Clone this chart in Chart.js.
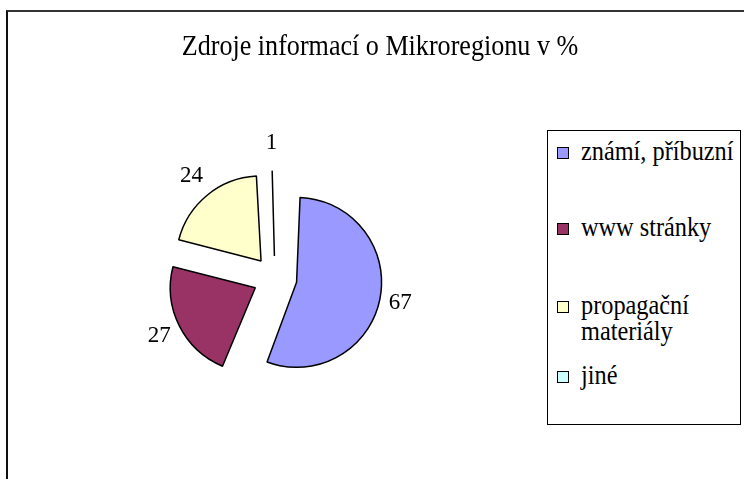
<!DOCTYPE html>
<html>
<head>
<meta charset="utf-8">
<script src="https://cdn.jsdelivr.net/npm/chart.js@4.4.1/dist/chart.umd.min.js"></script>
<style>
  html, body { margin: 0; padding: 0; background: #fff; }
  body { width: 744px; height: 479px; position: relative; overflow: hidden; }
  .frame { position: absolute; left: 6px; top: 10px; width: 800px; height: 520px; border-top: 2px solid #333; border-left: 2px solid #111; }
  #chart { position: absolute; left: 0; top: 0; }
  .title { position: absolute; left: 0; width: 760px; top: 29px; text-align: center; font-family: "Liberation Serif", "Times New Roman", serif; font-size: 29px; line-height: 32px; color: #000; white-space: nowrap; transform: scaleX(0.9); transform-origin: 380px 0; }
  .legend { position: absolute; left: 547px; top: 130px; width: 194px; height: 295px; box-sizing: border-box; border: 1px solid #000; background: #fff; font-family: "Liberation Serif", "Times New Roman", serif; }
  .legend .item { position: absolute; left: 0; font-size: 27px; line-height: 26px; color: #000; white-space: nowrap; }
  .legend .swatch { position: absolute; left: 9px; top: 9px; width: 12px; height: 12px; box-sizing: border-box; border: 1px solid #000; }
  .legend .text { margin-left: 33px; transform: scaleX(0.9); transform-origin: 0 0; }
</style>
</head>
<body>
<div class="frame"></div>
<canvas id="chart" width="744" height="479"></canvas>
<div class="title" id="title"></div>
<div class="legend" id="legend"></div>
<script>
const chartTitle = 'Zdroje informací o Mikroregionu v %';
const categories = ['známí, příbuzní', 'www stránky', ['propagační', 'materiály'], 'jiné'];
const values = [67, 27, 24, 1];
const sliceColors = ['#9999FF', '#993366', '#FFFFCC', '#CCFFFF'];

// exploded slices: Chart.js moves an arc by offset / 4
const explode = 88;
const pieRadius = 85;
const labelDistance = 131;
const legendTops = [7, 83, 161, 231];

// Chart.js also grows an offset arc's radius; undo that so every slice keeps the same radius
const keepRadius = {
  id: 'keepRadius',
  afterDatasetsUpdate(chart) {
    chart.getDatasetMeta(0).data.forEach((arc) => {
      const off = (arc.options.offset || 0) / 4;
      const fix = 1 - Math.sin(Math.min(Math.PI, arc.circumference || 0));
      arc.outerRadius = pieRadius - off * fix;
    });
  },
};

const valueLabels = {
  id: 'valueLabels',
  afterDatasetsDraw(chart) {
    const { ctx } = chart;
    const ds = chart.data.datasets[0];
    ctx.save();
    ctx.font = '23px "Liberation Serif", "Times New Roman", serif';
    ctx.fillStyle = '#000';
    ctx.textAlign = 'center';
    ctx.textBaseline = 'middle';
    chart.getDatasetMeta(0).data.forEach((arc, i) => {
      const mid = (arc.startAngle + arc.endAngle) / 2;
      // a bit closer on the sides, a bit further above/below
      const d = labelDistance - 4 * Math.abs(Math.cos(mid)) + 4 * Math.abs(Math.sin(mid));
      ctx.fillText(String(ds.data[i]), arc.x + Math.cos(mid) * d, arc.y + Math.sin(mid) * d);
    });
    ctx.restore();
  },
};

const chart = new Chart(document.getElementById('chart'), {
  type: 'pie',
  data: {
    labels: categories,
    datasets: [{
      data: values,
      backgroundColor: sliceColors,
      borderColor: '#000',
      borderWidth: 1.5,
      offset: explode,
      hoverOffset: 0,
      radius: pieRadius,
    }],
  },
  options: {
    responsive: false,
    animation: false,
    events: [],
    layout: { padding: { left: 20, right: 214, top: 77, bottom: 0 } },
    plugins: {
      legend: { display: false },
      tooltip: { enabled: false },
      title: { display: false },
    },
  },
  plugins: [keepRadius, valueLabels],
});

document.getElementById('title').textContent = chartTitle;

// legend built from the chart's own labels and colours
const legend = document.getElementById('legend');
chart.data.labels.forEach((label, i) => {
  const item = document.createElement('div');
  item.className = 'item';
  item.style.top = legendTops[i] + 'px';
  const sw = document.createElement('span');
  sw.className = 'swatch';
  sw.style.background = sliceColors[i];
  const txt = document.createElement('div');
  txt.className = 'text';
  txt.innerHTML = (Array.isArray(label) ? label : [label]).join('<br>');
  item.appendChild(sw);
  item.appendChild(txt);
  legend.appendChild(item);
});
</script>
</body>
</html>
